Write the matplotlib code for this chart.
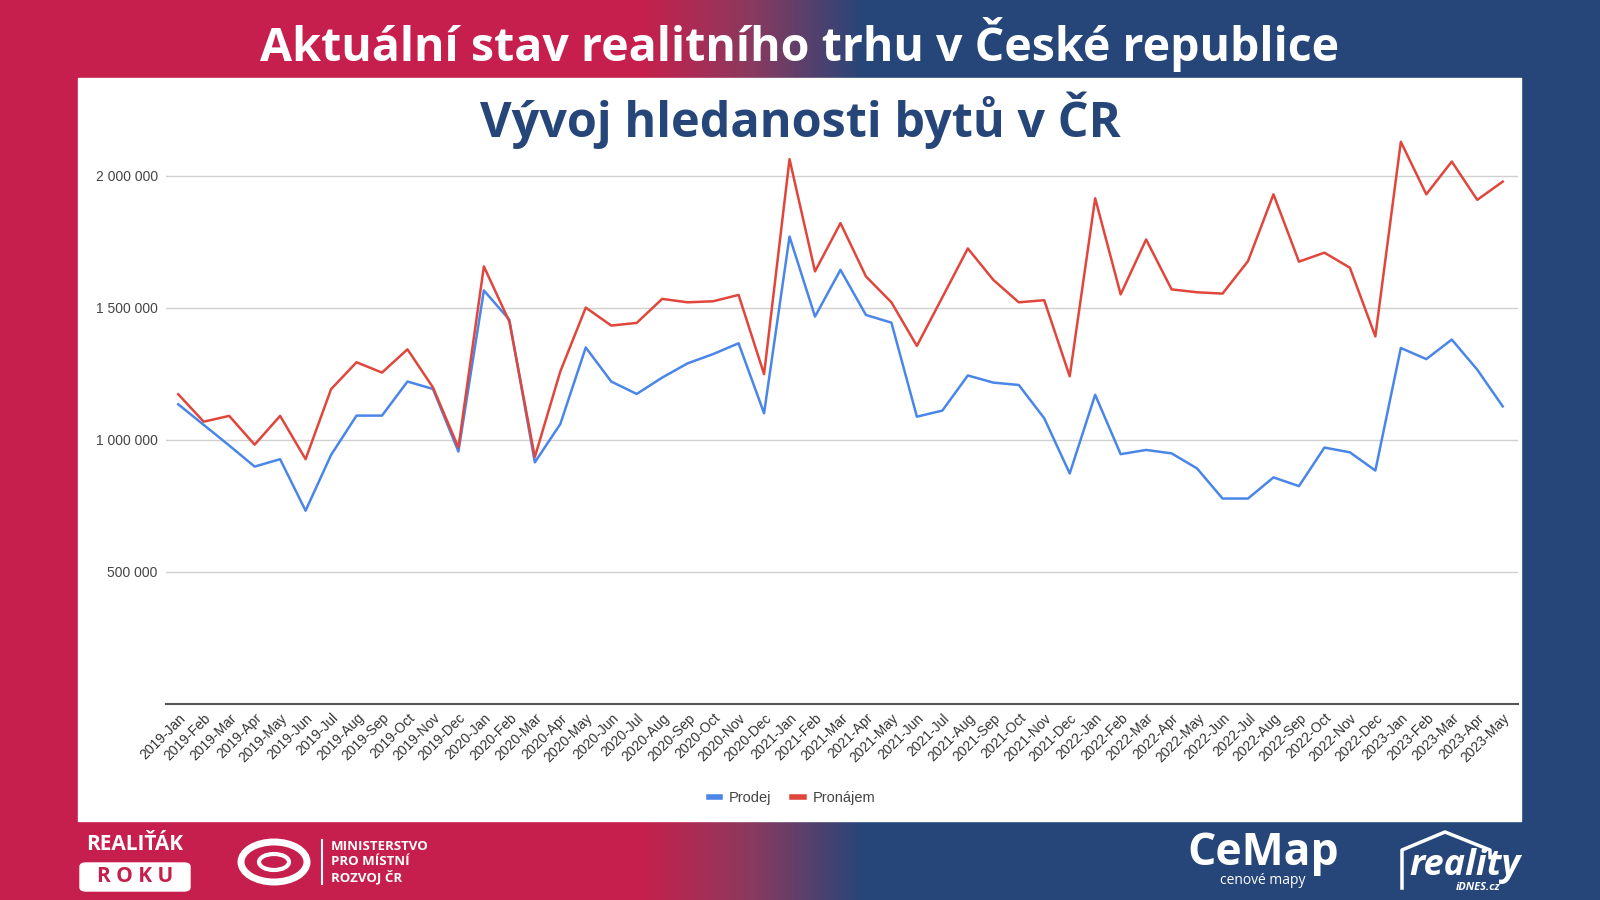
import matplotlib.pyplot as plt
import numpy as np
from matplotlib.ticker import FuncFormatter
from matplotlib.colors import LinearSegmentedColormap
from matplotlib.patches import Rectangle, FancyBboxPatch, Ellipse

years = ['2019', '2020', '2021', '2022', '2023']
month_names = ['Jan', 'Feb', 'Mar', 'Apr', 'May', 'Jun',
               'Jul', 'Aug', 'Sep', 'Oct', 'Nov', 'Dec']
months = [f'{y}-{m}' for y in years for m in month_names][:53]

prodej = [1135000, 1057000, 979000, 899000, 927000, 732000, 943000, 1092000,
          1092000, 1221000, 1193000, 956000, 1566000, 1455000, 915000, 1060000,
          1350000, 1221000, 1174000, 1236000, 1290000, 1325000, 1366000, 1101000,
          1770000, 1467000, 1644000, 1473000, 1444000, 1088000, 1111000, 1244000,
          1217000, 1208000, 1082000, 873000, 1171000, 946000, 962000, 949000,
          892000, 778000, 778000, 858000, 825000, 971000, 953000, 884000,
          1348000, 1306000, 1380000, 1266000, 1127000]

pronajem = [1173000, 1069000, 1091000, 982000, 1091000, 927000, 1192000, 1294000,
            1255000, 1343000, 1199000, 971000, 1657000, 1448000, 935000, 1259000,
            1501000, 1433000, 1443000, 1534000, 1521000, 1525000, 1549000, 1249000,
            2063000, 1638000, 1821000, 1619000, 1521000, 1356000, 1540000, 1725000,
            1606000, 1521000, 1529000, 1241000, 1915000, 1551000, 1759000, 1570000,
            1559000, 1554000, 1677000, 1930000, 1675000, 1709000, 1652000, 1392000,
            2129000, 1930000, 2054000, 1909000, 1978000]

yticks = [500000, 1000000, 1500000, 2000000]

RED = '#c71f4d'
NAVY = '#26467a'
BLUE = '#4a86e8'
LINE_RED = '#e0463c'

fig = plt.figure(figsize=(16, 9), dpi=100)

# gradient background
bg = fig.add_axes([0, 0, 1, 1])
cmap = LinearSegmentedColormap.from_list(
    'bg', [(0, RED), (0.40, RED), (0.47, '#8a3a5e'), (0.54, NAVY), (1, NAVY)])
grad = np.linspace(0, 1, 512).reshape(1, -1)
bg.imshow(grad, aspect='auto', cmap=cmap, extent=[0, 1, 0, 1])
bg.set_xlim(0, 1)
bg.set_ylim(0, 1)
bg.axis('off')

# white panel
bg.add_patch(Rectangle((78 / 1600, 1 - 821 / 900), (1521 - 78) / 1600,
                       (821 - 78) / 900, color='white', zorder=2))

fig.text(0.5, 1 - 45 / 900, 'Aktuální stav realitního trhu v České republice',
         ha='center', va='center', color='white', fontsize=33.5,
         fontweight='bold', family='Open Sans')
fig.text(0.5, 1 - 120 / 900, 'Vývoj hledanosti bytů v ČR',
         ha='center', va='center', color=NAVY, fontsize=35,
         fontweight='bold', family='Open Sans')

ax = fig.add_axes([166 / 1600, 1 - 704 / 900, (1518 - 166) / 1600, (704 - 123) / 900])
x = np.arange(len(months))
ax.plot(x, prodej, color=BLUE, lw=1.8, label='Prodej')
ax.plot(x, pronajem, color=LINE_RED, lw=1.8, label='Pronájem')

ax.set_xlim(-0.48, 52.6)
ax.set_ylim(0, 2200000)
ax.set_yticks(yticks)
ax.yaxis.set_major_formatter(FuncFormatter(lambda v, p: f'{int(v):,}'.replace(',', ' ')))
ax.grid(axis='y', color='#d0d0d0', lw=1)
ax.set_axisbelow(True)
ax.set_xticks(x)
ax.set_xticklabels(months, rotation=45, ha='right', rotation_mode='anchor',
                   family='Liberation Sans', fontsize=10, color='#333333')
for lbl in ax.get_yticklabels():
    lbl.set_family('Liberation Sans')
    lbl.set_fontsize(10)
    lbl.set_color('#444444')
ax.tick_params(axis='both', length=0, pad=6)
ax.tick_params(axis='x', pad=5)
for s in ['top', 'right', 'left']:
    ax.spines[s].set_visible(False)
ax.spines['bottom'].set_color('#555555')
ax.spines['bottom'].set_linewidth(1.5)
ax.set_facecolor('none')

fig.legend(loc='center', bbox_to_anchor=(0.495, 1 - 798 / 900), ncol=2,
           frameon=False, handlelength=0.8, handletextpad=0.6, columnspacing=1.4,
           prop={'family': 'Liberation Sans', 'size': 10.5})
leg = fig.legends[0]
for t in leg.get_texts():
    t.set_color('#444444')
for h in leg.get_lines():
    h.set_linewidth(4)

# footer logos (text approximations)
fig.text(135 / 1600, 1 - 845 / 900, 'REALIŤÁK', ha='center', va='center',
         color='white', fontsize=15, fontweight='bold', family='Open Sans')
bg.add_patch(FancyBboxPatch((80 / 1600, 1 - 891 / 900), 110 / 1600, 28 / 900,
                            boxstyle='round,pad=0,rounding_size=0.004',
                            color='white', zorder=3))
fig.text(135 / 1600, 1 - 877 / 900, 'R O K U', ha='center', va='center',
         color=RED, fontsize=15, fontweight='bold', family='Open Sans')
bg.add_patch(Ellipse((274 / 1600, 1 - 862 / 900), 66 / 1600, 40 / 900,
                     fill=False, ec='white', lw=5, zorder=3))
bg.add_patch(Ellipse((274 / 1600, 1 - 862 / 900), 30 / 1600, 16 / 900,
                     fill=False, ec='white', lw=3, zorder=3))
bg.plot([322 / 1600, 322 / 1600], [1 - 840 / 900, 1 - 884 / 900],
        color='white', lw=1.5, zorder=3)
fig.text(331 / 1600, 1 - 862 / 900, 'MINISTERSTVO\nPRO MÍSTNÍ\nROZVOJ ČR',
         ha='left', va='center', color='white', fontsize=9.5,
         fontweight='bold', family='Open Sans', linespacing=1.15)

fig.text(1263 / 1600, 1 - 853 / 900, 'CeMap', ha='center', va='center',
         color='white', fontsize=32, fontweight='bold', family='Open Sans')
fig.text(1263 / 1600, 1 - 881 / 900, 'cenové mapy', ha='center', va='center',
         color='white', fontsize=10, family='Open Sans')
fig.text(1465 / 1600, 1 - 866 / 900, 'reality', ha='center', va='center',
         color='white', fontsize=26, fontstyle='italic', family='Open Sans',
         fontweight='bold')
fig.text(1478 / 1600, 1 - 888 / 900, 'iDNES.cz', ha='center', va='center',
         color='white', fontsize=8, fontweight='bold', fontstyle='italic',
         family='Open Sans')
bg.plot(np.array([1402, 1402, 1445, 1490, 1490]) / 1600,
        1 - np.array([888, 850, 832, 850, 856]) / 900,
        color='white', lw=2.5, zorder=3)

fig.savefig('out.png', dpi=100)
